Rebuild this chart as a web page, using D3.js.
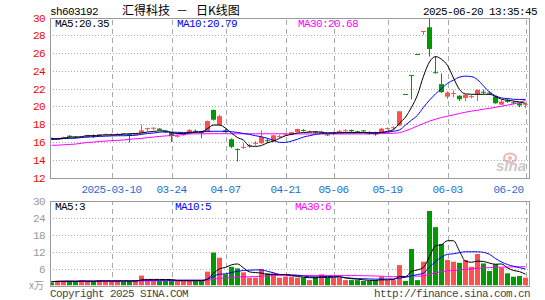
<!DOCTYPE html>
<html>
<head>
<meta charset="utf-8">
<script src="https://cdn.jsdelivr.net/npm/d3@7"></script>
<style>
body { margin: 0; background: #fff; }
svg { display: block; }
text { font-family: "Liberation Mono", monospace; font-size: 11px; letter-spacing: -0.6px; }
.cjk { font-family: "Noto Sans CJK SC", sans-serif; font-size: 12px; letter-spacing: 0; }
</style>
</head>
<body>
<svg></svg>
<script>
// 日K数据, 80 个交易日 (02-24 .. 06-20)
let opens = [16.45,16.3,16.4,16.7,16.6,16.5,16.55,16.7,16.7,16.8,
  16.8,16.85,16.95,16.9,16.8,17.0,17.5,17.55,17.5,17.2,
  17.05,16.6,16.75,17.0,17.25,17.15,17.15,19.6,17.9,17.3,
  16.3,15.2,15.35,15.5,15.8,15.85,16.2,16.05,16.6,16.75,
  16.8,17.1,17.35,17.1,17.15,17.1,16.85,16.95,17.15,17.25,
  17.35,17.2,17.3,17.05,16.95,17.1,17.5,17.6,17.85,21.4,
  23.54,25.9,28.4,28.9,23.85,22.5,21.1,21.45,21.2,20.95,
  21.1,21.35,21.65,21.55,21.1,20.2,20.65,20.45,20.35,20.25]
let highs = [16.5,16.45,16.6,16.75,16.65,16.6,16.8,16.85,16.9,16.95,
  16.95,17.0,16.98,16.95,16.95,17.95,17.6,17.65,17.55,17.25,
  17.1,16.85,17.0,17.45,17.4,17.25,18.4,19.65,19.05,17.5,
  16.4,15.27,15.9,15.8,16.1,17.3,16.4,16.8,16.8,17.0,
  17.15,17.5,17.45,17.3,17.2,17.25,16.9,17.15,17.35,17.45,
  17.4,17.25,17.35,17.2,17.15,17.6,17.65,17.75,19.45,21.4,
  23.54,25.9,28.48,30.0,25.6,23.7,21.7,21.8,21.25,21.35,
  21.3,21.9,21.9,21.7,21.15,20.75,20.85,20.6,20.4,20.35]
let lows = [16.25,16.25,16.35,16.45,16.45,16.45,16.5,16.45,16.65,16.75,
  16.7,16.8,16.85,15.95,16.75,16.95,17.2,17.3,17.3,17.0,
  16.0,16.5,16.7,16.95,17.0,16.4,17.1,18.4,17.85,17.05,
  15.3,13.8,15.2,15.35,15.6,15.8,15.9,16.0,16.45,16.7,
  16.75,17.05,17.15,17.0,16.85,17.05,16.7,16.75,17.1,17.15,
  17.1,17.05,17.15,16.85,16.7,17.05,17.4,17.3,17.8,21.38,
  20.8,25.88,28.05,25.6,23.7,21.5,20.85,21.0,20.6,20.6,
  20.9,20.6,21.35,21.3,20.3,20.15,20.4,20.25,19.9,19.8]
let closes = [16.3,16.4,16.55,16.65,16.5,16.55,16.75,16.65,16.85,16.85,
  16.85,16.9,16.88,16.85,16.9,17.3,17.55,17.6,17.35,17.15,
  16.65,16.7,16.9,17.35,17.15,17.0,18.35,18.5,18.9,17.1,
  15.45,15.12,15.45,15.6,15.9,16.55,16.1,16.75,16.65,16.85,
  17.1,17.45,17.28,17.15,17.1,17.15,16.78,17.0,17.25,17.3,
  17.2,17.1,17.2,17.0,16.9,17.5,17.55,17.65,19.45,21.38,
  23.5,25.88,28.48,26.45,23.8,21.6,21.55,21.5,20.8,21.3,
  21.15,21.85,21.6,21.5,20.35,20.55,20.5,20.4,20.1,20.3]
// 成交量 (万手)
let volumes = [1.1,1.6,1.6,1.35,1.35,1.9,1.6,1.35,1.9,1.6,
  1.6,1.6,1.35,1.6,1.9,3.5,1.9,1.9,1.6,1.6,
  1.9,1.6,1.6,1.9,1.6,1.6,4.9,11.6,9.8,3.95,
  6.6,6.05,4.65,2.75,2.75,5.8,4.3,4.3,2.75,3.1,
  3.1,2.75,2.75,1.9,3.1,3.95,2.75,2.75,2.75,1.9,
  1.9,1.9,1.6,1.6,1.9,3.1,1.9,1.9,7.2,1.6,
  12.9,1.9,8.4,26.3,20.6,14.6,9.0,8.4,8.0,9.0,
  6.6,11.1,7.8,5.1,7.5,6.3,4.3,3.1,3.35,2.75]

// 均线
let ma5 = [16.35,16.38,16.4,16.55,16.55,16.6,16.7,16.7,16.75,16.8,
  16.8,16.82,16.88,16.92,16.95,17.0,17.12,17.18,17.25,17.25,
  17.05,16.95,16.95,17.0,17.1,17.15,17.5,17.9,17.9,17.55,
  17.0,16.5,16.2,15.55,15.5,15.6,15.9,16.1,16.4,16.7,
  16.85,17.0,17.05,17.12,17.14,17.1,17.0,17.0,17.02,17.05,
  17.05,17.05,17.05,17.0,17.0,17.05,17.2,17.4,18.1,18.8,
  19.9,21.3,23.4,25.0,25.6,25.3,24.6,23.2,21.9,21.4,
  21.36,21.36,21.36,21.36,21.1,20.8,20.7,20.6,20.5,20.35]
let ma10 = [16.28,16.3,16.38,16.4,16.42,16.5,16.55,16.58,16.62,16.65,
  16.68,16.7,16.7,16.72,16.75,16.85,16.95,17.0,17.1,17.13,
  17.1,17.08,17.07,17.07,17.1,17.14,17.18,17.2,17.2,17.2,
  17.15,17.07,16.95,16.85,16.7,16.58,16.4,16.2,15.95,15.95,
  16.1,16.3,16.55,16.7,16.85,16.95,17.0,17.03,17.03,17.03,
  17.03,17.04,17.05,17.05,17.05,17.07,17.1,17.2,17.35,17.9,
  18.45,19.0,19.9,20.7,21.4,22.0,22.6,22.95,23.3,23.4,
  23.35,23.0,22.3,21.6,21.2,20.95,20.88,20.8,20.78,20.79]
let ma30 = [15.62,15.64,15.68,15.72,15.76,15.85,15.95,15.98,16.05,16.1,
  16.15,16.18,16.22,16.3,16.35,16.4,16.48,16.55,16.62,16.68,
  16.72,16.78,16.85,16.9,16.92,16.92,16.93,16.93,16.93,16.93,
  16.92,16.92,16.92,16.92,16.92,16.92,16.92,16.92,16.92,16.92,
  16.9,16.9,16.9,16.9,16.9,16.9,16.9,16.9,16.9,16.9,
  16.9,16.9,16.9,16.9,16.92,16.94,16.96,16.98,17.05,17.25,
  17.5,17.8,18.08,18.35,18.55,18.75,18.9,19.05,19.2,19.35,
  19.47,19.57,19.68,19.78,19.9,20.02,20.15,20.27,20.45,20.68]
let vma5 = [1.4,1.45,1.5,1.5,1.45,1.55,1.55,1.5,1.6,1.65,
  1.6,1.6,1.6,1.6,1.6,2.0,2.15,2.15,2.15,2.1,
  2.1,1.75,1.7,1.7,1.7,1.7,2.3,4.3,5.9,6.4,
  7.3,7.6,6.2,4.8,4.55,4.4,3.9,3.9,3.9,3.85,
  3.5,3.2,2.9,2.75,2.7,2.9,2.85,2.9,3.05,2.7,
  2.4,2.25,2.0,1.8,1.8,2.0,2.0,2.1,3.2,3.1,
  5.0,5.5,6.4,10.2,14.0,14.4,15.8,15.8,12.1,8.6,
  8.2,8.6,8.5,7.9,7.5,7.6,6.2,5.3,4.9,3.96]
let vma10 = [1.4,1.45,1.45,1.5,1.5,1.5,1.5,1.5,1.55,1.55,
  1.55,1.6,1.6,1.6,1.6,1.8,1.85,1.85,1.85,1.85,
  1.85,1.9,1.9,1.9,1.9,1.9,2.2,3.2,4.0,4.1,
  4.6,5.0,5.3,5.4,5.5,5.5,5.0,4.5,3.9,3.85,
  3.75,3.65,3.35,3.1,3.0,3.15,3.2,3.2,3.1,2.7,
  2.6,2.4,2.4,2.3,2.25,2.25,2.3,2.3,2.65,2.9,
  3.4,3.85,4.4,6.5,8.4,10.0,11.0,11.2,11.6,11.9,
  11.9,11.9,11.7,11.0,9.5,8.3,7.4,6.8,6.3,5.79]
let vma30 = [1.35,1.5,1.55,1.55,1.55,1.6,1.6,1.6,1.6,1.6,
  1.6,1.6,1.6,1.6,1.6,1.65,1.65,1.65,1.65,1.65,
  1.65,1.65,1.65,1.65,1.65,1.65,1.8,2.2,2.55,2.65,
  2.8,2.95,3.05,3.1,3.15,3.3,3.4,3.5,3.5,3.5,
  3.5,3.5,3.5,3.5,3.5,3.5,3.5,3.5,3.5,3.5,
  3.5,3.5,3.45,3.4,3.35,3.3,3.1,3.1,3.2,3.1,
  3.4,3.3,3.4,3.9,4.5,4.9,5.2,5.3,5.5,5.7,
  5.9,6.1,6.2,6.3,6.4,6.5,6.5,6.6,6.6,6.6]

let tickIndex = [10, 20, 29, 39, 47, 56, 66, 79]
let tickLabels = ['2025-03-10', '03-24', '04-07', '04-21', '05-06', '05-19', '06-03', '06-20']
let priceTicks = [12, 14, 16, 18, 20, 22, 24, 26, 28, 30]
let volTicks = [6, 12, 18, 24, 30]

let width = 545
let height = 300
let left = 50
let right = 530
let priceTop = 17.5
let priceBottom = 177.5
let volTop = 200.5
let volBottom = 285.5

let red = '#ff5050'
let green = '#009900'
let gridColor = '#aaaaaa'

let svg = d3.select('svg').attr('width', width).attr('height', height)
svg.append('rect').attr('width', width).attr('height', height).attr('fill', '#fff')

let xScale = d3.scaleLinear().domain([0, 79]).range([51, 525])
let yScale = d3.scaleLinear().domain([12, 30]).range([priceBottom, priceTop])
let vScale = d3.scaleLinear().domain([0, 30]).range([volBottom, volTop])

let defs = svg.append('defs')
defs.append('clipPath').attr('id', 'clipP').append('rect')
    .attr('x', left).attr('y', priceTop).attr('width', right - left).attr('height', priceBottom - priceTop)
defs.append('clipPath').attr('id', 'clipV').append('rect')
    .attr('x', left).attr('y', volTop).attr('width', right - left).attr('height', volBottom - volTop)

let upDown = (i) => closes[i] >= opens[i] ? red : green

let drawGrid = (scale, top, bottom, ticks) => {
    // horizontal dotted lines
    let hg = svg.append('g')
        .attr('transform', 'translate(' + left + ',0)')
        .call(d3.axisLeft(scale).tickValues(ticks).tickSize(-(right - left)).tickFormat(''))
    hg.select('.domain').remove()
    hg.selectAll('line').attr('stroke', gridColor).attr('stroke-dasharray', '1,2').attr('shape-rendering', 'crispEdges')
    // vertical dashed lines
    let vg = svg.append('g')
        .attr('transform', 'translate(0,' + bottom + ')')
        .call(d3.axisBottom(xScale).tickValues(tickIndex).tickSize(-(bottom - top)).tickFormat(''))
    vg.select('.domain').remove()
    vg.selectAll('line').attr('stroke', gridColor).attr('stroke-dasharray', '5,4')
        .attr('transform', 'translate(0.5,0)').attr('shape-rendering', 'crispEdges')
}

let drawBox = (top, bottom) => {
    svg.append('rect')
        .attr('x', left + 0.5).attr('y', top + 0.5)
        .attr('width', right - left - 1).attr('height', bottom - top)
        .attr('fill', 'none').attr('stroke', '#999').attr('shape-rendering', 'crispEdges')
}

let drawLine = (values, scale, color, clip) => {
    svg.append('path')
        .datum(values)
        .attr('clip-path', 'url(#' + clip + ')')
        .attr('fill', 'none')
        .attr('stroke', color)
        .attr('stroke-width', 1)
        .attr('d', d3.line().x((d, i) => xScale(i) + 0.5).y((d) => scale(d)).curve(d3.curveMonotoneX))
}

// ---- price panel ----
drawGrid(yScale, priceTop, priceBottom, priceTicks.slice(1, -1))

let candles = svg.append('g').attr('clip-path', 'url(#clipP)')
candles.selectAll('line')
    .data(d3.range(closes.length))
    .enter()
    .append('line')
    .attr('x1', (i) => xScale(i) + 0.5)
    .attr('x2', (i) => xScale(i) + 0.5)
    .attr('y1', (i) => yScale(highs[i]))
    .attr('y2', (i) => yScale(lows[i]))
    .attr('stroke', (i) => upDown(i))
candles.selectAll('rect')
    .data(d3.range(closes.length))
    .enter()
    .append('rect')
    .attr('x', (i) => xScale(i) - 2)
    .attr('width', 5)
    .attr('y', (i) => yScale(Math.max(opens[i], closes[i])))
    .attr('height', (i) => Math.max(1, Math.abs(yScale(opens[i]) - yScale(closes[i]))))
    .attr('fill', (i) => upDown(i))

drawLine(ma30, yScale, '#ff00ff', 'clipP')
drawLine(ma10, yScale, '#0000ff', 'clipP')
drawLine(ma5, yScale, '#000000', 'clipP')
drawBox(priceTop, priceBottom)

let yAxis = svg.append('g')
    .attr('transform', 'translate(' + left + ',0)')
    .call(d3.axisLeft(yScale).tickValues(priceTicks).tickSize(0).tickPadding(5))
yAxis.select('.domain').remove()
yAxis.selectAll('text').attr('fill', '#ff0000').style('font-family', '"Liberation Mono", monospace').style('font-size', '11px')

// sina logo watermark
let logo = svg.append('g').attr('opacity', 0.45)
logo.append('ellipse').attr('cx', 510).attr('cy', 158).attr('rx', 6).attr('ry', 4.5).attr('fill', 'none').attr('stroke', '#e06060').attr('stroke-width', 2)
logo.append('circle').attr('cx', 510).attr('cy', 158).attr('r', 2).attr('fill', '#e06060')
logo.append('text').attr('x', 496).attr('y', 171)
    .style('font-family', 'Arial, "Liberation Sans", sans-serif').style('font-size', '15px')
    .style('font-style', 'italic').style('font-weight', 'bold').style('letter-spacing', '0')
    .attr('fill', '#888').text('sina')

// x axis labels
let xAxis = svg.append('g')
    .attr('transform', 'translate(0,' + priceBottom + ')')
    .call(d3.axisBottom(xScale).tickValues(tickIndex).tickSize(0).tickPadding(8)
        .tickFormat((d, i) => tickLabels[i]))
xAxis.select('.domain').remove()
xAxis.selectAll('text').attr('fill', '#1f6fd0').style('font-family', '"Liberation Mono", monospace').style('font-size', '11px')
xAxis.selectAll('.tick').filter((d) => d === tickIndex[tickIndex.length - 1])
    .select('text').attr('text-anchor', 'end').attr('x', -2)

// ---- volume panel ----
drawGrid(vScale, volTop, volBottom, volTicks.slice(0, -1))

svg.append('g').attr('clip-path', 'url(#clipV)')
    .selectAll('rect')
    .data(volumes)
    .enter()
    .append('rect')
    .attr('x', (d, i) => xScale(i) - 2)
    .attr('width', 5)
    .attr('y', (d) => vScale(d))
    .attr('height', (d) => volBottom - vScale(d))
    .attr('fill', (d, i) => upDown(i))

drawLine(vma30, vScale, '#ff00ff', 'clipV')
drawLine(vma10, vScale, '#0000ff', 'clipV')
drawLine(vma5, vScale, '#000000', 'clipV')
drawBox(volTop, volBottom)

let vAxis = svg.append('g')
    .attr('transform', 'translate(' + left + ',0)')
    .call(d3.axisLeft(vScale).tickValues(volTicks).tickSize(0).tickPadding(5))
vAxis.select('.domain').remove()
vAxis.selectAll('text').attr('fill', '#999').style('font-family', '"Liberation Mono", monospace').style('font-size', '11px')

svg.append('text').attr('x', 29).attr('y', 289).attr('fill', '#999')
    .attr('class', 'cjk').style('font-size', '10px').text('x万')

// ---- texts ----
svg.append('text').attr('x', 50).attr('y', 15).attr('fill', '#000').text('sh603192')
let title = svg.append('text').attr('y', 15).attr('fill', '#000').attr('class', 'cjk')
title.append('tspan').attr('x', 122).text('汇得科技')
title.append('tspan').attr('x', 176).text('－')
title.append('tspan').attr('x', 196).text('日K线图')
svg.append('text').attr('x', 537).attr('y', 15).attr('text-anchor', 'end').attr('fill', '#000').text('2025-06-20 13:35:45')

let last = closes.length - 1
svg.append('text').attr('x', 55).attr('y', 27).attr('fill', '#000').text('MA5:' + ma5[last].toFixed(2))
svg.append('text').attr('x', 177).attr('y', 27).attr('fill', '#0000ff').text('MA10:' + ma10[last].toFixed(2))
svg.append('text').attr('x', 298).attr('y', 27).attr('fill', '#ff00ff').text('MA30:' + ma30[last].toFixed(2))

svg.append('text').attr('x', 55).attr('y', 210).attr('fill', '#000').text('MA5:' + Math.floor(vma5[last]))
svg.append('text').attr('x', 175).attr('y', 210).attr('fill', '#0000ff').text('MA10:' + Math.floor(vma10[last]))
svg.append('text').attr('x', 295).attr('y', 210).attr('fill', '#ff00ff').text('MA30:' + Math.floor(vma30[last]))

svg.append('text').attr('x', 50).attr('y', 297).attr('fill', '#444').text('Copyright 2025 SINA.COM')
svg.append('text').attr('x', 530).attr('y', 297).attr('text-anchor', 'end').attr('fill', '#444').text('http://finance.sina.com.cn')
</script>
</body>
</html>
